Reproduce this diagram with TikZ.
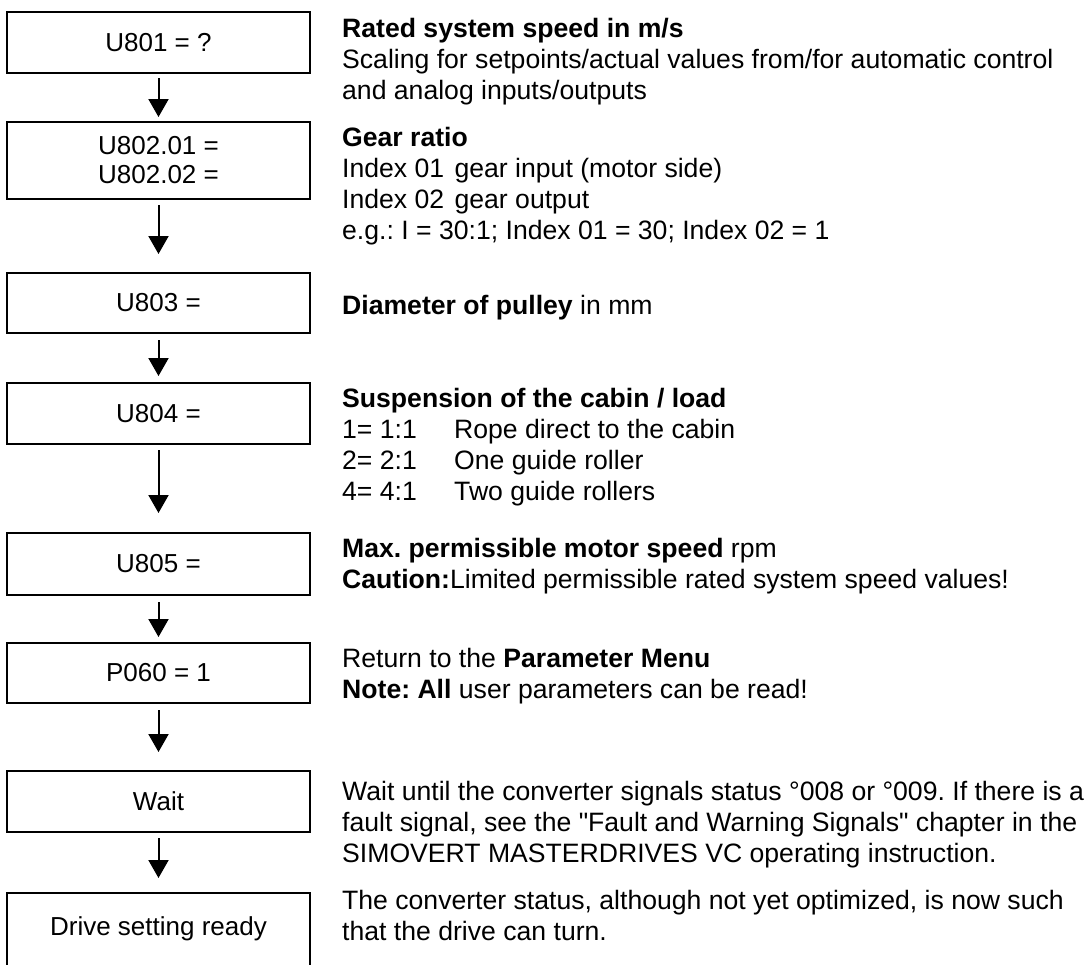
\documentclass[tikz,border=0pt]{standalone}
\usepackage{fontspec}
\setmainfont{Liberation Sans}
\usetikzlibrary{arrows.meta}
\frenchspacing
\newcommand{\paralines}[1]{\vtop{\baselineskip=31pt\lineskiplimit=-100pt\lineskip=0pt #1}}
\tikzset{
  stepbox/.style={draw, line width=2pt, minimum width=303pt, inner sep=0pt, outer sep=0pt,
    anchor=north west, align=center, font=\fontsize{26}{29}\selectfont},
  arr/.style={line width=2pt, -{Triangle[length=18pt,width=20pt]}},
  desc/.style={anchor=base west, inner sep=0pt, font=\fontsize{26.6}{31}\selectfont}
}
\begin{document}
\begin{tikzpicture}[x=1pt,y=-1pt]
\useasboundingbox (0,0) rectangle (1091,964);
\clip (0,0) rectangle (1091,964);
% boxes
\node[stepbox, minimum height=61pt] (b1) at (7,12) {U801 = ?};
\node[stepbox, minimum height=77pt] (b2) at (7,122) {U802.01 =\\U802.02 =};
\node[stepbox, minimum height=60pt] (b3) at (7,273) {U803 =};
\node[stepbox, minimum height=61pt] (b4) at (7,383) {U804 =};
\node[stepbox, minimum height=62pt] (b5) at (7,533) {U805 =};
\node[stepbox, minimum height=60pt] (b6) at (7,643) {P060 = 1};
\node[stepbox, minimum height=61pt] (b7) at (7,771) {Wait};
\node[stepbox, minimum height=74pt] (b8) at (7,893) {\raisebox{8pt}{Drive setting ready}};
% arrow tips
\coordinate (t1) at (b1.south |- 0,117);
\coordinate (t2) at (b2.south |- 0,254);
\coordinate (t3) at (b3.south |- 0,376);
\coordinate (t4) at (b4.south |- 0,513);
\coordinate (t5) at (b5.south |- 0,637);
\coordinate (t6) at (b6.south |- 0,752);
\coordinate (t7) at (b7.south |- 0,878);
\draw[arr] ([yshift=-5pt]b1.south) -- (t1);
\draw[arr] ([yshift=-6pt]b2.south) -- (t2);
\draw[arr] ([yshift=-7pt]b3.south) -- (t3);
\draw[arr] ([yshift=-6pt]b4.south) -- (t4);
\draw[arr] ([yshift=-7pt]b5.south) -- (t5);
\draw[arr] ([yshift=-7pt]b6.south) -- (t6);
\draw[arr] ([yshift=-6pt]b7.south) -- (t7);
% descriptions
\node[desc] (d1) at (342,37) {\paralines{%
  \hbox{\textbf{Rated system speed in m/s}}
  \hbox{Scaling for setpoints/actual values from/for automatic control}
  \hbox{and analog inputs/outputs}}};
\node[desc] (d2) at (342,146) {\paralines{%
  \hbox{\textbf{Gear ratio}}
  \hbox{Index 01\hspace{3pt} gear input (motor side)}
  \hbox{Index 02\hspace{3pt} gear output}
  \hbox{e.g.: I = 30:1; Index 01 = 30; Index 02 = 1}}};
\node[desc] (d3) at (342,314) {\paralines{%
  \hbox{\textbf{Diameter of pulley} in mm}}};
\node[desc] (d4) at (342,407) {\paralines{%
  \hbox{\textbf{Suspension of the cabin / load}}
  \hbox{\makebox[112pt][l]{1= 1:1}Rope direct to the cabin}
  \hbox{\makebox[112pt][l]{2= 2:1}One guide roller}
  \hbox{\makebox[112pt][l]{4= 4:1}Two guide rollers}}};
\node[desc] (d5) at (342,557) {\paralines{%
  \hbox{\textbf{Max. permissible motor speed} rpm}
  \hbox{\textbf{Caution:}Limited permissible rated system speed values!}}};
\node[desc] (d6) at (342,667) {\paralines{%
  \hbox{Return to the \textbf{Parameter Menu}}
  \hbox{\textbf{Note: All} user parameters can be read!}}};
\node[desc] (d7) at (342,800) {\paralines{%
  \hbox{Wait until the converter signals status °008 or °009. If there is a}
  \hbox{fault signal, see the \textquotedbl Fault and Warning Signals\textquotedbl{} chapter in the}
  \hbox{SIMOVERT MASTERDRIVES VC operating instruction.}}};
\node[desc] (d8) at (342,909) {\paralines{%
  \hbox{The converter status, although not yet optimized, is now such}
  \hbox{that the drive can turn.}}};
\end{tikzpicture}
\end{document}
